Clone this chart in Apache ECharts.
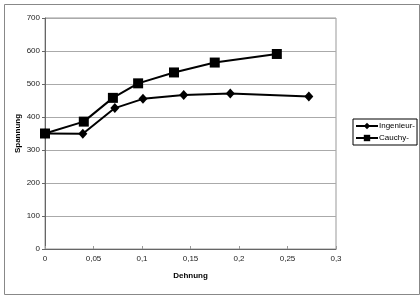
<!DOCTYPE html>
<html><head><meta charset="utf-8">
<script src="https://cdn.jsdelivr.net/npm/echarts@6/dist/echarts.min.js"></script>
<style>html,body{margin:0;padding:0;background:#fff}#c{width:420px;height:296px}</style>
</head><body><div id="c"></div>
<script>
const xTicks = [0, 0.05, 0.1, 0.15, 0.2, 0.25, 0.3];
const yTicks = [0, 100, 200, 300, 400, 500, 600, 700];
const ingStrain = [0, 0.039, 0.072, 0.101, 0.143, 0.191, 0.272];
const ingStress = [350, 349, 427, 455, 467, 471, 462];
const cauStrain = [0, 0.040, 0.070, 0.096, 0.133, 0.175, 0.239];
const cauStress = [350, 386, 458, 502, 535, 565, 591];
const seriesNames = ['Ingenieur-', 'Cauchy-'];

const pair = (xs, ys) => xs.map((x, i) => [x, ys[i]]);
const fmt = v => String(+v.toFixed(2)).replace('.', ',');

const chart = echarts.init(document.getElementById('c'), null, {renderer: 'canvas'});
chart.setOption({
  animation: false,
  backgroundColor: '#fff',
  graphic: [{
    type: 'rect', left: 2, top: 2, shape: {width: 415, height: 290},
    style: {fill: 'none', stroke: '#888', lineWidth: 1}, silent: true, z: -1
  }],
  grid: {left: 45, right: 84, top: 18, bottom: 47, show: true, borderColor: '#999', borderWidth: 1, backgroundColor: '#fff'},
  legend: {
    orient: 'vertical', left: 353, top: 119,
    itemWidth: 22, itemHeight: 8, itemGap: 4,
    borderColor: '#000', borderWidth: 1, padding: [3, 2, 3, 2],
    lineStyle: {width: 2},
    textStyle: {fontFamily: 'Liberation Sans, Arial', fontSize: 8, color: '#000', padding: [0,0,0,-4]},
    data: seriesNames
  },
  xAxis: {
    type: 'value', min: 0, max: 0.3, interval: 0.05,
    name: 'Dehnung', nameLocation: 'middle', nameGap: 23,
    nameTextStyle: {fontFamily: 'Liberation Sans, Arial', fontSize: 8, fontWeight: 'bold', color: '#000'},
    axisLine: {show: true, lineStyle: {color: '#666', width: 1}},
    axisTick: {show: true, inside: true, length: 3, lineStyle: {color: '#999'}},
    axisLabel: {fontFamily: 'Liberation Sans, Arial', fontSize: 8, color: '#222', margin: 6, formatter: fmt},
    splitLine: {show: false}
  },
  yAxis: {
    type: 'value', min: 0, max: 700, interval: 100,
    name: 'Spannung', nameLocation: 'middle', nameGap: 23, nameRotate: 90, nameMoveOverlap: false,
    nameTextStyle: {fontFamily: 'Liberation Sans, Arial', fontSize: 8, fontWeight: 'bold', color: '#000'},
    axisLine: {show: true, lineStyle: {color: '#666', width: 1}},
    axisTick: {show: true, length: 3, lineStyle: {color: '#666'}},
    axisLabel: {fontFamily: 'Liberation Sans, Arial', fontSize: 8, color: '#222', margin: 5},
    splitLine: {show: true, lineStyle: {color: '#aaa', width: 1}}
  },
  series: [
    {name: seriesNames[0], type: 'line', data: pair(ingStrain, ingStress),
     symbol: 'diamond', symbolSize: [9, 10], color: '#000',
     lineStyle: {color: '#000', width: 2}, itemStyle: {color: '#000'}},
    {name: seriesNames[1], type: 'line', data: pair(cauStrain, cauStress),
     symbol: 'rect', symbolSize: 10, color: '#000',
     lineStyle: {color: '#000', width: 2}, itemStyle: {color: '#000'}}
  ]
});
</script></body></html>
